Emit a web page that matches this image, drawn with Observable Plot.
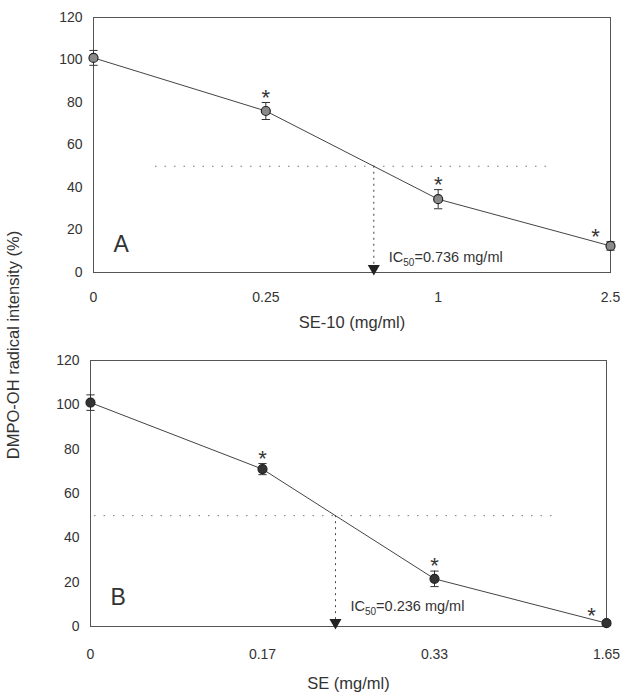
<!DOCTYPE html>
<html>
<head>
<meta charset="utf-8">
<script src="https://cdn.jsdelivr.net/npm/d3@7"></script>
<script src="https://cdn.jsdelivr.net/npm/@observablehq/plot@0.6"></script>
<style>
  body { margin: 0; background: #fff; }
  #wrap { position: relative; width: 626px; height: 700px; font-family: "Liberation Sans", Arial, sans-serif; }
  #wrap svg { display: block; }
  #ylab { position: absolute; left: 0; top: 0; }
</style>
</head>
<body>
<div id="wrap"></div>
<script>
// ---- data ----
const labelsA = ["0", "0.25", "1", "2.5"];
const meanA = [101, 76, 34.5, 12.5];
const errA = [3.5, 4, 4.5, 2];
const sigA = [false, true, true, true];

const labelsB = ["0", "0.17", "0.33", "1.65"];
const meanB = [101, 71, 21.5, 1.5];
const errB = [3.5, 2.5, 3.5, 1];
const sigB = [false, true, true, true];

const titles = ["SE-10 (mg/ml)", "SE (mg/ml)"];
const letters = ["A", "B"];
const ic50Labels = ["IC50=0.736 mg/ml", "IC50=0.236 mg/ml"];
const yTicks = [0, 20, 40, 60, 80, 100, 120];
const yLabel = "DMPO-OH radical intensity (%)";
const halfLevel = 50;

function crossing(mean, level) {
  for (let k = 0; k < mean.length - 1; k++) {
    if (mean[k] >= level && mean[k + 1] < level) {
      return k + (mean[k] - level) / (mean[k] - mean[k + 1]);
    }
  }
  return 0;
}

function panel(o) {
  const data = o.labels.map((l, i) => ({i, label: l, v: o.mean[i], e: o.err[i], sig: o.sig[i]}));
  const ic = crossing(o.mean, halfLevel);
  const cap = 0.024;
  const caps = data.flatMap(d => [{i: d.i, y: d.v - d.e}, {i: d.i, y: d.v + d.e}]);
  const sigMain = data.filter(d => d.sig && d.i < data.length - 1);
  const sigLast = data.filter(d => d.sig && d.i === data.length - 1);
  const n = data.length - 1;
  const svg = Plot.plot({
    width: 626,
    height: o.height,
    marginTop: o.mt,
    marginBottom: o.mb,
    marginLeft: o.ml,
    marginRight: o.mr,
    style: {fontFamily: '"Liberation Sans", Arial, sans-serif', fontSize: "14px", color: "#333", background: "#fff"},
    x: {domain: [0, n]},
    y: {domain: [0, 120]},
    marks: [
      Plot.frame({stroke: "#555", strokeWidth: 1}),
      Plot.ruleY([halfLevel], {stroke: "#777", strokeDasharray: "1.5,8", insetLeft: o.insetL, insetRight: o.insetR}),
      Plot.ruleX([{x: ic, y1: halfLevel, y2: 0}], {x: "x", y1: "y1", y2: "y2", stroke: "#444", strokeDasharray: "2,4"}),
      Plot.dot([{x: ic, y: 0}], {x: "x", y: "y", symbol: "triangle", rotate: 180, r: 4.5, fill: "#222", stroke: "none", dy: -4}),
      Plot.line(data, {x: "i", y: "v", stroke: "#444", strokeWidth: 1}),
      Plot.ruleX(data, {x: "i", y1: d => d.v - d.e, y2: d => d.v + d.e, stroke: "#333"}),
      Plot.link(caps, {x1: d => d.i - cap, x2: d => d.i + cap, y1: "y", y2: "y", stroke: "#333"}),
      Plot.dot(data, {x: "i", y: "v", r: 4.5, fill: o.fill, stroke: "#222", strokeWidth: 1.2}),
      Plot.text(sigMain, {x: "i", y: d => d.v + d.e, text: () => "*", fontSize: 22, lineAnchor: "bottom", dy: 2, fill: "#333"}),
      Plot.text(sigLast, {x: "i", y: d => d.v + d.e, text: () => "*", fontSize: 22, lineAnchor: "bottom", dy: 2, dx: -15, fill: "#333"}),
      Plot.text([o.ic50], {x: ic, y: o.icY, text: d => d, textAnchor: "start", dx: 15, fontSize: 14.5, fill: "#333"}),
      Plot.text([o.letter], {x: 0, y: o.letterY, text: d => d, textAnchor: "start", dx: 20, fontSize: 23, fill: "#333"}),
      Plot.axisX({ticks: data.map(d => d.i), tickFormat: i => o.labels[i], tickSize: 0, tickPadding: o.xPad, label: null, fontSize: 14}),
      Plot.axisY({ticks: yTicks, tickSize: 0, tickPadding: 11, label: null, fontSize: 14}),
      Plot.text([o.title], {frameAnchor: "bottom", dy: o.titleDy, text: d => d, fontSize: 16.5, fill: "#333"})
    ]
  });
  // subscript for IC50
  svg.querySelectorAll("text").forEach(t => {
    if (t.textContent === o.ic50) {
      const ns = "http://www.w3.org/2000/svg";
      t.textContent = "";
      const a = document.createElementNS(ns, "tspan"); a.textContent = "IC";
      const b = document.createElementNS(ns, "tspan"); b.textContent = "50";
      b.setAttribute("font-size", "10"); b.setAttribute("dy", "4");
      const c = document.createElementNS(ns, "tspan"); c.textContent = o.ic50.slice(4);
      c.setAttribute("dy", "-4");
      t.append(a, b, c);
    }
  });
  return svg;
}

const wrap = document.getElementById("wrap");
wrap.append(panel({
  labels: labelsA, mean: meanA, err: errA, sig: sigA, title: titles[0], letter: letters[0], ic50: ic50Labels[0],
  fill: "#8a8a8a", height: 340, mt: 17, mb: 68, ml: 93, mr: 16, xPad: 20, titleDy: 55,
  insetL: 62, insetR: 64, icY: 7, letterY: 13
}));
wrap.append(panel({
  labels: labelsB, mean: meanB, err: errB, sig: sigB, title: titles[1], letter: letters[1], ic50: ic50Labels[1],
  fill: "#333", height: 360, mt: 20, mb: 74, ml: 90, mr: 20, xPad: 23, titleDy: 62,
  insetL: 4, insetR: 54, icY: 9, letterY: 13
}));

// shared y-axis title
const ns = "http://www.w3.org/2000/svg";
const ys = document.createElementNS(ns, "svg");
ys.setAttribute("id", "ylab");
ys.setAttribute("width", "30");
ys.setAttribute("height", "700");
const yt = document.createElementNS(ns, "text");
yt.setAttribute("transform", "translate(19,345) rotate(-90)");
yt.setAttribute("text-anchor", "middle");
yt.setAttribute("font-family", '"Liberation Sans", Arial, sans-serif');
yt.setAttribute("font-size", "16.5");
yt.setAttribute("fill", "#333");
yt.textContent = yLabel;
ys.append(yt);
wrap.append(ys);
</script>
</body>
</html>
